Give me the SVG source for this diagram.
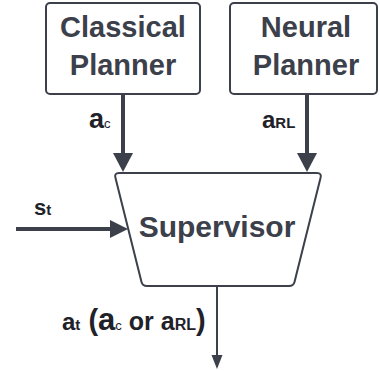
<svg xmlns="http://www.w3.org/2000/svg" width="380" height="371" viewBox="0 0 380 371">
<style>
.box{fill:#fff;stroke:#3b404a;stroke-width:2}
.t{font-family:"Liberation Sans",Arial,sans-serif;font-weight:bold;fill:#3b404a;text-anchor:middle}
.l{font-family:"Liberation Sans",Arial,sans-serif;font-weight:bold;fill:#1f2228}
.ln{stroke:#3b404a;fill:none}
.ah{fill:#3b404a}
</style>
<rect width="380" height="371" fill="#fff"/>
<g id="classical">
<rect class="box" x="46" y="3" width="154" height="91" rx="4"/>
<text class="t" x="123" y="37" font-size="29">Classical</text>
<text class="t" x="123" y="75" font-size="29">Planner</text>
</g>
<g id="neural">
<rect class="box" x="230" y="3" width="147" height="91" rx="4"/>
<text class="t" x="306" y="37" font-size="29">Neural</text>
<text class="t" x="306" y="75" font-size="29">Planner</text>
</g>
<g id="supervisor">
<path class="box" d="M119,173 L317,173 Q322,173 320.5,178 L294.5,282 Q293.5,286 289,286 L147,286 Q142.5,286 141.5,282 L115.5,178 Q114,173 119,173 Z"/>
<text class="t" x="217" y="237" font-size="30">Supervisor</text>
</g>
<g id="connectors">
<line class="ln" x1="123" y1="94" x2="123" y2="155" stroke-width="4"/>
<polygon class="ah" points="113,153 133,153 123,172"/>
<line class="ln" x1="307" y1="94" x2="307" y2="155" stroke-width="4"/>
<polygon class="ah" points="297,153 317,153 307,172"/>
<line class="ln" x1="16" y1="229" x2="112" y2="229" stroke-width="4"/>
<polygon class="ah" points="110,220 128,229 110,238"/>
<line class="ln" x1="217" y1="286" x2="217" y2="357" stroke-width="2"/>
<polygon class="ah" points="211.5,355 222.5,355 217,369"/>
<text class="l" x="89" y="128" font-size="27">a<tspan font-size="13" font-weight="normal">c</tspan></text>
<text class="l" x="262" y="128" font-size="24">a<tspan font-size="15">RL</tspan></text>
<text class="l" x="34" y="215" font-size="22">s<tspan font-size="15">t</tspan></text>
<text class="l" x="62" y="330" font-size="24">a<tspan font-size="15">t</tspan><tspan font-size="29"> (</tspan><tspan font-size="31">a</tspan><tspan font-size="13" font-weight="normal">c</tspan><tspan font-size="25"> or a</tspan><tspan font-size="16">RL</tspan><tspan font-size="29">)</tspan></text>
</g>
</svg>
